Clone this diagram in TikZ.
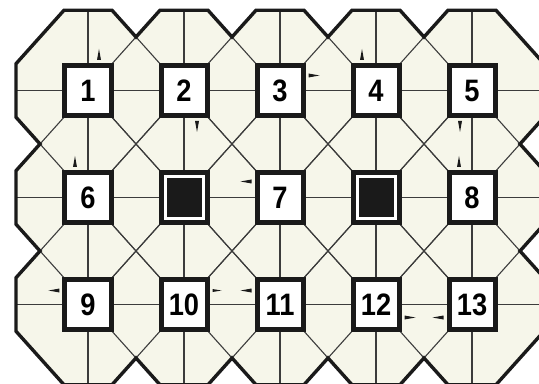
\documentclass[tikz,border=0pt]{standalone}
\usepackage{fontspec}
\setmainfont{Liberation Sans}
\newfontfamily\numfont[FakeStretch=0.88]{Liberation Sans}
\definecolor{cream}{HTML}{F6F6EA}
\definecolor{ink}{HTML}{1A1A1A}
\begin{document}
\begin{tikzpicture}[x=96pt,y=-107pt,
  thinline/.style={draw=ink!85, line width=1.1pt},
  outline/.style={draw=ink, line width=3.4pt, line join=miter},
  numbox/.style={draw=ink, fill=white, line width=5pt, minimum width=46pt, minimum height=50pt, inner sep=0pt, font=\numfont\fontsize{31}{31}\selectfont\bfseries},
  blackin/.style={fill=ink, minimum width=35pt, minimum height=39pt, inner sep=0pt},
  wdg/.style={fill=ink}]
\useasboundingbox (-88/96,-90.5/107) rectangle (451/96,293.5/107);
% union region
\path[fill=cream] (-0.25,-0.75) -- (0.25,-0.75) -- (0.5,-0.5) -- (0.75,-0.75) -- (1.25,-0.75) -- (1.5,-0.5) -- (1.75,-0.75) -- (2.25,-0.75) -- (2.5,-0.5) -- (2.75,-0.75) -- (3.25,-0.75) -- (3.5,-0.5) -- (3.75,-0.75) -- (4.25,-0.75) -- (4.75,-0.25) -- (4.75,0.25) -- (4.5,0.5) -- (4.75,0.75) -- (4.75,1.25) -- (4.5,1.5) -- (4.75,1.75) -- (4.75,2.25) -- (4.25,2.75) -- (3.75,2.75) -- (3.5,2.5) -- (3.25,2.75) -- (2.75,2.75) -- (2.5,2.5) -- (2.25,2.75) -- (1.75,2.75) -- (1.5,2.5) -- (1.25,2.75) -- (0.75,2.75) -- (0.5,2.5) -- (0.25,2.75) -- (-0.25,2.75) -- (-0.75,2.25) -- (-0.75,1.75) -- (-0.5,1.5) -- (-0.75,1.25) -- (-0.75,0.75) -- (-0.5,0.5) -- (-0.75,0.25) -- (-0.75,-0.25) -- cycle;
% grid lines
\foreach \j in {0,1,2} \draw[thinline] (-0.75,\j) -- (4.75,\j);
\foreach \i in {0,...,4} \draw[thinline] (\i,-0.75) -- (\i,2.75);
% diagonal octagon edges
\foreach \i in {0,...,4} \foreach \j in {0,1,2} {
  \draw[thinline] (\i+0.25,\j-0.75) -- (\i+0.75,\j-0.25);
  \draw[thinline] (\i+0.75,\j+0.25) -- (\i+0.25,\j+0.75);
  \draw[thinline] (\i-0.25,\j+0.75) -- (\i-0.75,\j+0.25);
  \draw[thinline] (\i-0.75,\j-0.25) -- (\i-0.25,\j-0.75);
}
% thick outline
\draw[outline] (-0.25,-0.75) -- (0.25,-0.75) -- (0.5,-0.5) -- (0.75,-0.75) -- (1.25,-0.75) -- (1.5,-0.5) -- (1.75,-0.75) -- (2.25,-0.75) -- (2.5,-0.5) -- (2.75,-0.75) -- (3.25,-0.75) -- (3.5,-0.5) -- (3.75,-0.75) -- (4.25,-0.75) -- (4.75,-0.25) -- (4.75,0.25) -- (4.5,0.5) -- (4.75,0.75) -- (4.75,1.25) -- (4.5,1.5) -- (4.75,1.75) -- (4.75,2.25) -- (4.25,2.75) -- (3.75,2.75) -- (3.5,2.5) -- (3.25,2.75) -- (2.75,2.75) -- (2.5,2.5) -- (2.25,2.75) -- (1.75,2.75) -- (1.5,2.5) -- (1.25,2.75) -- (0.75,2.75) -- (0.5,2.5) -- (0.25,2.75) -- (-0.25,2.75) -- (-0.75,2.25) -- (-0.75,1.75) -- (-0.5,1.5) -- (-0.75,1.25) -- (-0.75,0.75) -- (-0.5,0.5) -- (-0.75,0.25) -- (-0.75,-0.25) -- cycle;
% boxes
\node[numbox] (b1) at (0,0) {1};
\node[numbox] (b2) at (1,0) {2};
\node[numbox] (b3) at (2,0) {3};
\node[numbox] (b4) at (3,0) {4};
\node[numbox] (b5) at (4,0) {5};
\node[numbox] (b6) at (0,1) {6};
\node[numbox] (k1) at (1,1) {};
\node[blackin] (k1in) at (1,1) {};
\node[numbox] (b7) at (2,1) {7};
\node[numbox] (k2) at (3,1) {};
\node[blackin] (k2in) at (3,1) {};
\node[numbox] (b8) at (4,1) {8};
\node[numbox] (b9) at (0,2) {9};
\node[numbox] (b10) at (1,2) {10};
\node[numbox] (b11) at (2,2) {11};
\node[numbox] (b12) at (3,2) {12};
\node[numbox] (b13) at (4,2) {13};
% small wedges
\fill[wdg] ([xshift=11pt,yshift=3pt]b1.north) +(-2pt,0) -- +(0,11pt) -- +(2pt,0) -- cycle;
\fill[wdg] ([xshift=13pt,yshift=-3pt]b2.south) +(-2pt,0) -- +(0,-11pt) -- +(2pt,0) -- cycle;
\fill[wdg] ([xshift=3pt,yshift=15pt]b3.east) +(0,-2pt) -- +(11pt,0) -- +(0,2pt) -- cycle;
\fill[wdg] ([xshift=-14pt,yshift=3pt]b4.north) +(-2pt,0) -- +(0,11pt) -- +(2pt,0) -- cycle;
\fill[wdg] ([xshift=-12pt,yshift=-3pt]b5.south) +(-2pt,0) -- +(0,-11pt) -- +(2pt,0) -- cycle;
\fill[wdg] ([xshift=-13pt,yshift=3pt]b6.north) +(-2pt,0) -- +(0,11pt) -- +(2pt,0) -- cycle;
\fill[wdg] ([xshift=-3pt,yshift=16pt]b7.west) +(0,-2pt) -- +(-11pt,0) -- +(0,2pt) -- cycle;
\fill[wdg] ([xshift=-13pt,yshift=3pt]b8.north) +(-2pt,0) -- +(0,11pt) -- +(2pt,0) -- cycle;
\fill[wdg] ([xshift=-3pt,yshift=14pt]b9.west) +(0,-2pt) -- +(-11pt,0) -- +(0,2pt) -- cycle;
\fill[wdg] ([xshift=3pt,yshift=14pt]b10.east) +(0,-1.5pt) -- +(9pt,0) -- +(0,1.5pt) -- cycle;
\fill[wdg] ([xshift=-3pt,yshift=14pt]b11.west) +(0,-2pt) -- +(-11pt,0) -- +(0,2pt) -- cycle;
\fill[wdg] ([xshift=3pt,yshift=-13pt]b12.east) +(0,-2pt) -- +(11pt,0) -- +(0,2pt) -- cycle;
\fill[wdg] ([xshift=-3pt,yshift=-13pt]b13.west) +(0,-2pt) -- +(-11pt,0) -- +(0,2pt) -- cycle;
\end{tikzpicture}
\end{document}
